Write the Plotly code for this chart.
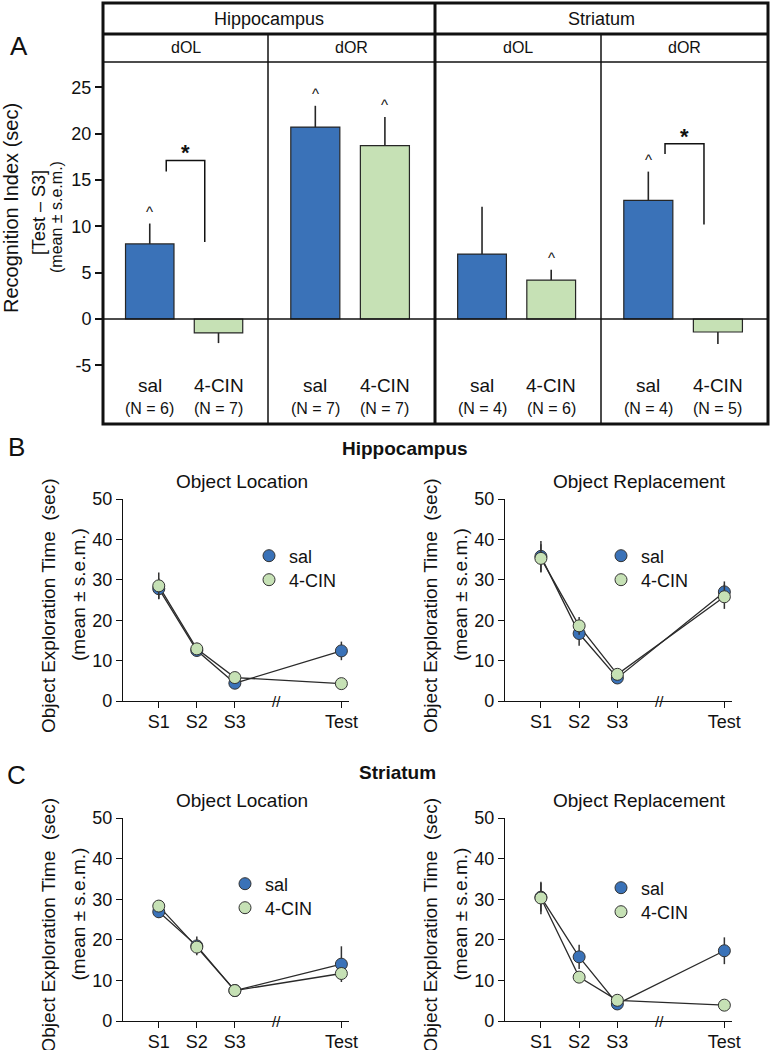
import plotly.graph_objects as go

W, H = 770, 1050
FONT = "Liberation Sans, Arial, Helvetica, sans-serif"
BLUE = "#3A72B8"
GREEN = "#C6E1B5"
EDGE = "#262626"
INK = "#111111"


def PX(x):
    return x / W


def PY(y):
    return 1 - y / H


# ---------------- Panel A data ----------------
regions = ["Hippocampus", "Striatum"]
tasks = ["dOL", "dOR", "dOL", "dOR"]
groups = ["sal", "4-CIN"]
ri_sal_mean = [8.1, 20.7, 7.0, 12.8]
ri_sal_sem = [2.2, 2.3, 5.1, 3.1]
ri_cin_mean = [-1.5, 18.7, 4.2, -1.4]
ri_cin_sem = [1.1, 3.1, 1.1, 1.3]
n_sal = [6, 7, 4, 4]
n_cin = [7, 7, 6, 5]
caret_sal = [True, True, False, True]
caret_cin = [False, True, True, False]
# significance brackets: (left-leg low, top, right-leg low) in sec, None if absent
sig_bracket = [(15.9, 17.1, 8.3), None, None, (17.8, 18.9, 10.2)]
ri_ticks = [-5, 0, 5, 10, 15, 20, 25]
ri_ticktext = ["-5", "0", "5", "10", "15", "20", "25"]

# ---------------- Panels B & C data ----------------
sessions = ["S1", "S2", "S3", "Test"]
series = ["sal", "4-CIN"]
panel_titles = ["Object Location", "Object Replacement",
                "Object Location", "Object Replacement"]
expl_sal_mean = [
    [27.8, 12.5, 4.4, 12.4],
    [35.8, 16.7, 5.7, 27.0],
    [26.9, 18.5, 7.5, 14.0],
    [30.5, 15.8, 4.2, 17.3],
]
expl_sal_sem = [
    [2.5, 1.5, 1.0, 2.3],
    [3.8, 3.0, 0.8, 2.6],
    [1.5, 2.3, 1.0, 4.4],
    [3.5, 3.0, 0.8, 3.3],
]
expl_cin_mean = [
    [28.5, 12.9, 5.8, 4.3],
    [35.3, 18.6, 6.6, 25.8],
    [28.3, 18.2, 7.5, 11.7],
    [30.3, 10.8, 5.1, 3.9],
]
expl_cin_sem = [
    [3.3, 1.5, 1.0, 0.8],
    [3.5, 2.2, 1.0, 3.0],
    [1.2, 1.5, 1.2, 1.6],
    [4.0, 1.2, 1.0, 0.8],
]

fig = go.Figure()
annotations = []
shapes = []


def ann(**kw):
    kw.setdefault("showarrow", False)
    kw.setdefault("xanchor", "center")
    kw.setdefault("yanchor", "middle")
    annotations.append(kw)


def F(size):
    return dict(size=size, color=INK, family=FONT)


# ================= Panel A =================
A_left, A_right = 103, 768
A_top, A_hdr1, A_hdr2, A_bot = 3, 34, 62, 424
sub_edges = [103, 268, 435, 601, 768]
y_zero_px = 319
px_per_unit = 9.27
yA_range = [-(A_bot - y_zero_px) / px_per_unit, (y_zero_px - A_hdr2) / px_per_unit]
xA_range = [-0.68, 1.72]
bar_w = 0.705

layout_axes = {}
layout_axes["yaxis"] = dict(
    domain=[PY(A_bot), PY(A_hdr2)], range=yA_range, anchor="x",
    tickvals=ri_ticks, ticktext=ri_ticktext, ticks="outside", ticklen=7,
    tickwidth=1.5, tickcolor=INK, showline=False, showgrid=False,
    zeroline=False, automargin=False, tickfont=F(18),
)
for i in range(4):
    key = "xaxis" if i == 0 else f"xaxis{i + 1}"
    layout_axes[key] = dict(
        domain=[PX(sub_edges[i]), PX(sub_edges[i + 1])], range=xA_range,
        anchor="y", visible=False, fixedrange=True, automargin=False,
    )
    xref = "x" if i == 0 else f"x{i + 1}"
    means = [ri_sal_mean[i], ri_cin_mean[i]]
    sems = [ri_sal_sem[i], ri_cin_sem[i]]
    up = [s if m >= 0 else 0 for m, s in zip(means, sems)]
    dn = [s if m < 0 else 0 for m, s in zip(means, sems)]
    fig.add_trace(go.Bar(
        x=[0, 1], y=means, width=bar_w, xaxis=xref, yaxis="y",
        marker=dict(color=[BLUE, GREEN], line=dict(color=EDGE, width=1.2)),
        error_y=dict(type="data", symmetric=False, array=up, arrayminus=dn,
                     color=EDGE, thickness=1.6, width=0),
        showlegend=False, hoverinfo="skip",
    ))
    # carets
    for gi, flag in enumerate([caret_sal[i], caret_cin[i]]):
        if flag:
            ann(x=gi, y=means[gi] + up[gi], xref=xref, yref="y", text="^",
                yanchor="bottom", yshift=2, font=F(15))
    # group labels and N
    for gi, (g, n) in enumerate(zip(groups, [n_sal[i], n_cin[i]])):
        ann(x=gi, y=PY(385), xref=xref, yref="paper", text=g, font=F(19))
        ann(x=gi, y=PY(408), xref=xref, yref="paper", text=f"(N = {n})", font=F(16))
    # significance bracket
    if sig_bracket[i] is not None:
        lo_l, top, lo_r = sig_bracket[i]
        xl, xr = 0.24, 0.80
        shapes.append(dict(
            type="path", xref=xref, yref="y",
            path=f"M {xl},{lo_l} L {xl},{top} L {xr},{top} L {xr},{lo_r}",
            line=dict(color=INK, width=1.5)))
        ann(x=(xl + xr) / 2, y=top, xref=xref, yref="y", text="<b>*</b>",
            yanchor="bottom", yshift=-7, font=F(22))
    # task header
    ann(x=PX((sub_edges[i] + sub_edges[i + 1]) / 2), y=PY((A_hdr1 + A_hdr2) / 2),
        xref="paper", yref="paper", text=tasks[i], font=F(16))

# region headers
for r, (x0, x1) in enumerate([(sub_edges[0], sub_edges[2]), (sub_edges[2], sub_edges[4])]):
    ann(x=PX((x0 + x1) / 2), y=PY((A_top + A_hdr1) / 2), xref="paper", yref="paper",
        text=regions[r], font=F(18))


# frame lines for panel A
def pline(x0, y0, x1, y1, w):
    shapes.append(dict(type="line", xref="paper", yref="paper",
                       x0=PX(x0), y0=PY(y0), x1=PX(x1), y1=PY(y1),
                       line=dict(color=INK, width=w)))


pline(A_left, A_hdr2, A_right, A_hdr2, 1.5)
pline(sub_edges[1], A_hdr1, sub_edges[1], A_bot, 1.5)
pline(sub_edges[3], A_hdr1, sub_edges[3], A_bot, 1.5)
pline(A_left, A_hdr1, A_right, A_hdr1, 3)
pline(sub_edges[2], A_top, sub_edges[2], A_bot, 3)
shapes.append(dict(type="rect", xref="paper", yref="paper",
                   x0=PX(A_left), x1=PX(A_right), y0=PY(A_bot), y1=PY(A_top),
                   line=dict(color=INK, width=3)))
shapes.append(dict(type="line", xref="paper", yref="y", x0=PX(A_left), x1=PX(A_right),
                   y0=0, y1=0, line=dict(color=INK, width=1.5)))

# y title panel A
ann(x=PX(11), y=PY(208), xref="paper", yref="paper", text="Recognition Index (sec)",
    textangle=-90, font=F(20))
ann(x=PX(39), y=PY(213), xref="paper", yref="paper", text="[Test \u2013 S3]",
    textangle=-90, font=F(18))
ann(x=PX(56), y=PY(217), xref="paper", yref="paper", text="(mean \u00b1 s.e.m.)",
    textangle=-90, font=F(16))
ann(x=PX(19), y=PY(46), xref="paper", yref="paper", text="A", font=F(26))

# ================= Panels B & C =================
BREAK_GAP = 1.8
x_pos = [i + 1 + (BREAK_GAP if i >= 3 else 0) for i in range(len(sessions))]
xBC_range = [0.06, 6.0]
# pixel frames: (x_left, x_right, y_top(50), y_bottom(0))
frames = [(123, 349, 499, 701), (505, 732, 499, 701),
          (123, 349, 818, 1021), (505, 732, 818, 1021)]
# legend symbol centres (x, y_sal, y_cin)
legend_pos = [(269, 556, 580), (621, 556, 580), (245, 884, 908), (621, 888, 912)]
title_cx = [242, 639, 242, 639]

leg_n = 0
for p in range(4):
    xl, xr, yt, yb = frames[p]
    xi, yi = 5 + p, 2 + p
    xref, yref = f"x{xi}", f"y{yi}"
    layout_axes[f"xaxis{xi}"] = dict(
        domain=[PX(xl), PX(xr)], range=xBC_range, anchor=yref,
        tickvals=x_pos, ticktext=sessions, ticks="outside", ticklen=6,
        tickwidth=1.3, tickcolor=INK, showline=True, linecolor=INK, linewidth=1.3,
        showgrid=False, zeroline=False, automargin=False, tickfont=F(18),
        ticklabelstandoff=-2,
    )
    layout_axes[f"yaxis{yi}"] = dict(
        domain=[PY(yb), PY(yt)], range=[0, 50], anchor=xref,
        tickvals=[0, 10, 20, 30, 40, 50], ticks="outside", ticklen=6,
        tickwidth=1.3, tickcolor=INK, showline=True, linecolor=INK, linewidth=1.3,
        showgrid=False, zeroline=False, automargin=False, tickfont=F(18),
    )
    pairs = [(expl_sal_mean[p], expl_sal_sem[p], BLUE),
             (expl_cin_mean[p], expl_cin_sem[p], GREEN)]
    for m, e, col in pairs:
        fig.add_trace(go.Scatter(
            x=x_pos, y=m, mode="lines", xaxis=xref, yaxis=yref,
            line=dict(color="#2a2a2a", width=1.3), showlegend=False,
            hoverinfo="skip", cliponaxis=False))
    lx = legend_pos[p][0]
    for s, (m, e, col) in enumerate(pairs):
        leg_n += 1
        leg = "legend" if leg_n == 1 else f"legend{leg_n}"
        fig.add_trace(go.Scatter(
            x=x_pos, y=m, mode="markers", xaxis=xref, yaxis=yref, name=series[s],
            marker=dict(color=col, size=12, line=dict(color="#333333", width=1)),
            error_y=dict(type="data", array=e, color="#333333", thickness=1.5, width=0),
            legend=leg, showlegend=True, cliponaxis=False))
        ly = legend_pos[p][1 + s]
        layout_axes[leg] = dict(
            x=PX(lx - 20), y=PY(ly), xanchor="left", yanchor="middle",
            bgcolor="rgba(0,0,0,0)", borderwidth=0, tracegroupgap=0,
            font=F(18), itemwidth=30,
        )
    # title
    ann(x=PX(title_cx[p]), y=PY(yt - 18), xref="paper", yref="paper",
        text=panel_titles[p], font=F(19))
    # axis break
    ann(x=4.1, y=0, xref=xref, yref=yref, text="//", font=F(15))
    # y titles
    yc = (yt + yb) / 2
    ann(x=PX(xl - 75), y=PY(yc + 6), xref="paper", yref="paper",
        text="Object Exploration Time \u00a0(sec)", textangle=-90, font=F(19))
    ann(x=PX(xl - 45), y=PY(yc - 5), xref="paper", yref="paper",
        text="(mean \u00b1 s.e.m.)", textangle=-90, font=F(19))

# section headers
ann(x=PX(16), y=PY(447), xref="paper", yref="paper", text="B", font=F(26))
ann(x=PX(16), y=PY(775), xref="paper", yref="paper", text="C", font=F(26))
ann(x=PX(405), y=PY(448), xref="paper", yref="paper", text="<b>Hippocampus</b>", font=F(19))
ann(x=PX(398), y=PY(772), xref="paper", yref="paper", text="<b>Striatum</b>", font=F(19))

fig.update_layout(
    width=W, height=H, margin=dict(l=0, r=0, t=0, b=0, autoexpand=False),
    paper_bgcolor="white", plot_bgcolor="rgba(0,0,0,0)",
    font=dict(family=FONT, color=INK),
    barmode="overlay",
    annotations=annotations, shapes=shapes,
    **layout_axes,
)

fig.write_html(
    "out.html",
    config={"displayModeBar": False, "staticPlot": False},
    post_script="document.body.style.margin='0px';document.body.style.overflow='hidden';",
)
